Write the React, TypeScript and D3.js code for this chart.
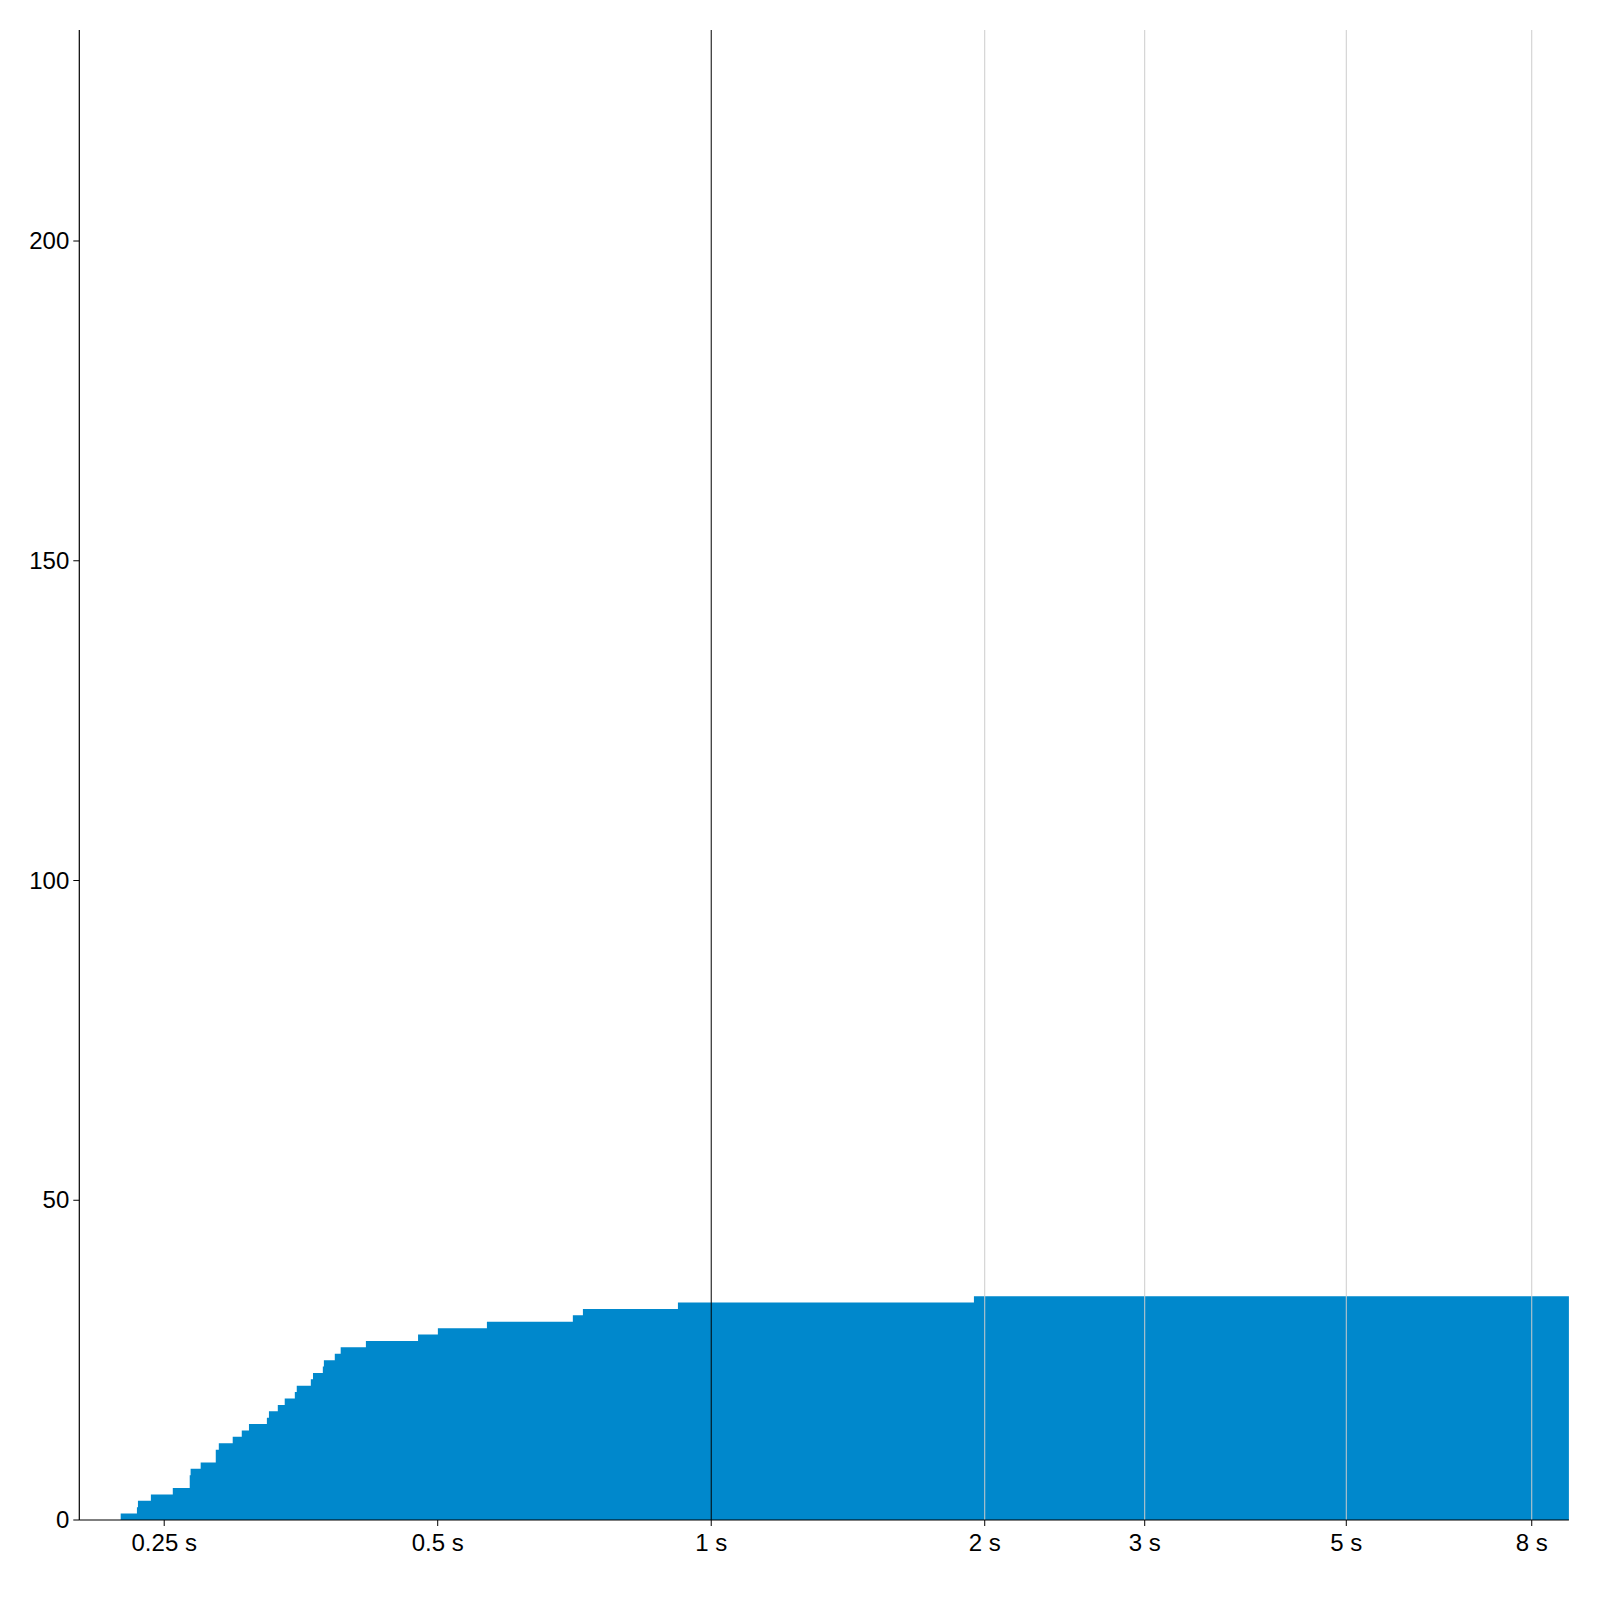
import React from "react";
import * as d3 from "d3";

// Event times (seconds) at which the cumulative count steps up, and the count after each step
const stepTimes = [0.2239, 0.2333, 0.2339, 0.2417, 0.2555, 0.2667, 0.2673, 0.2742, 0.2849, 0.2871, 0.2974, 0.3043, 0.3099, 0.3243, 0.326, 0.3334, 0.3393, 0.3481, 0.3498, 0.3625, 0.3645, 0.3737, 0.3747, 0.3852, 0.391, 0.4168, 0.4757, 0.5002, 0.5664, 0.7042, 0.7224, 0.9191, 1.946];
const stepCounts = [1, 2, 3, 4, 5, 7, 8, 9, 11, 12, 13, 14, 15, 16, 17, 18, 19, 20, 21, 22, 23, 24, 25, 26, 27, 28, 29, 30, 31, 32, 33, 34, 35];

const xDomain = [0.2016, 8.79];
const yDomain = [0, 233];
const xTicks = [0.25, 0.5, 1, 2, 3, 5, 8];
const xTickLabels = ["0.25 s", "0.5 s", "1 s", "2 s", "3 s", "5 s", "8 s"];
const gridTicks = [2, 3, 5, 8];
const yTicks = [0, 50, 100, 150, 200];

const W = 1600;
const H = 1600;
const left = 79.3;
const right = 1568.9;
const top = 30;
const bottom = 1520;
const FONT = "'Liberation Sans', Arial, Helvetica, sans-serif";

export default function App() {
  const x = d3.scaleLog().domain(xDomain).range([left, right]);
  const y = d3.scaleLinear().domain(yDomain).range([bottom, top]);

  const pts: [number, number][] = stepTimes.map((t, i) => [t, stepCounts[i]]);
  pts.push([xDomain[1], stepCounts[stepCounts.length - 1]]);

  const area = d3
    .area<[number, number]>()
    .x((d) => x(d[0]))
    .y0(y(0))
    .y1((d) => y(d[1]))
    .curve(d3.curveStepAfter);

  return (
    <svg
      width={W}
      height={H}
      style={{ position: "absolute", left: 0, top: 0, background: "#fff" }}
      fontFamily={FONT}
    >
      <path d={area(pts) || ""} fill="#0088cc" />
      {gridTicks.map((t) => (
        <line key={t} x1={x(t)} x2={x(t)} y1={top} y2={bottom} stroke="#cccccc" strokeWidth={1} />
      ))}
      <line x1={x(1)} x2={x(1)} y1={top} y2={bottom} stroke="#000" strokeWidth={1} />
      {/* y axis */}
      <line x1={left} x2={left} y1={top} y2={bottom} stroke="#000" strokeWidth={1.2} />
      {yTicks.map((v) => (
        <g key={v} transform={`translate(0,${y(v)})`}>
          <line x1={left - 6} x2={left} stroke="#000" strokeWidth={1} />
          <text x={left - 10} dy="0.34em" textAnchor="end" fontSize={24} fill="#000">
            {v}
          </text>
        </g>
      ))}
      {/* x axis */}
      <line x1={left} x2={right} y1={bottom} y2={bottom} stroke="#000" strokeWidth={1.2} />
      {xTicks.map((t, i) => (
        <g key={t} transform={`translate(${x(t)},${bottom})`}>
          <line y1={0} y2={6} stroke="#000" strokeWidth={1} />
          <text y={12.5} dy="0.75em" textAnchor="middle" fontSize={24} fill="#000">
            {xTickLabels[i]}
          </text>
        </g>
      ))}
    </svg>
  );
}
